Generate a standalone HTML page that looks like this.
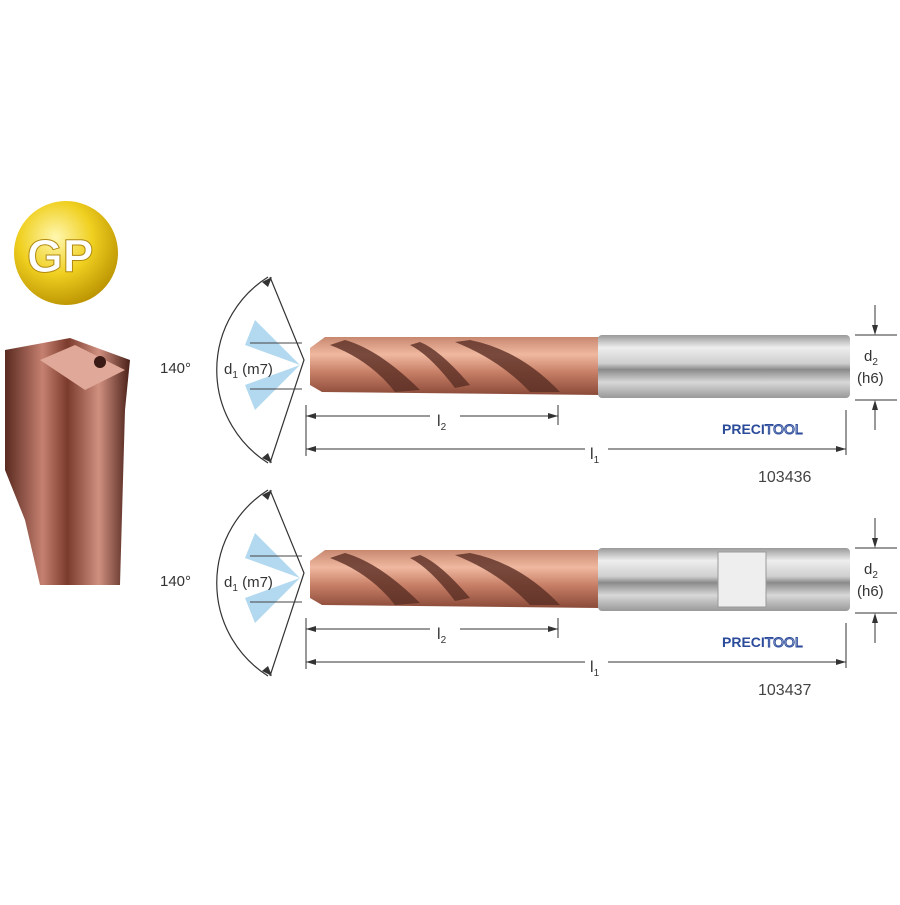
<!DOCTYPE html>
<html><head><style>
body{margin:0;background:#fff;width:900px;height:900px;overflow:hidden;font-family:"Liberation Sans",sans-serif}
svg text{font-family:"Liberation Sans",sans-serif;fill:#333}
</style></head><body>
<svg width="900" height="900" viewBox="0 0 900 900" xmlns="http://www.w3.org/2000/svg">
<defs>
<radialGradient id="gold" cx="40%" cy="35%" r="70%">
<stop offset="0" stop-color="#fff7b0"/><stop offset="0.5" stop-color="#f0d020"/><stop offset="1" stop-color="#b89000"/>
</radialGradient>
<linearGradient id="cop" x1="0" y1="0" x2="0" y2="1">
<stop offset="0" stop-color="#c88870"/><stop offset="0.3" stop-color="#f0b8a0"/><stop offset="0.6" stop-color="#c88068"/><stop offset="1" stop-color="#8a4a38"/>
</linearGradient>
<linearGradient id="steel" x1="0" y1="0" x2="0" y2="1">
<stop offset="0" stop-color="#9a9a9a"/><stop offset="0.2" stop-color="#eeeeee"/><stop offset="0.45" stop-color="#cfcfcf"/><stop offset="0.55" stop-color="#8a8a8a"/><stop offset="0.75" stop-color="#d8d8d8"/><stop offset="1" stop-color="#999"/>
</linearGradient>
<linearGradient id="cop2" x1="0" y1="0" x2="1" y2="0">
<stop offset="0" stop-color="#5a2a20"/><stop offset="0.3" stop-color="#c58070"/><stop offset="0.5" stop-color="#7a3a2c"/><stop offset="0.75" stop-color="#d09080"/><stop offset="1" stop-color="#4a2018"/>
</linearGradient>
<g id="drill">
<path d="M268 277 A110 110 0 0 0 268 463" fill="none" stroke="#333" stroke-width="1.2"/>
<polygon points="262,282 272,277 268,287" fill="#333"/>
<polygon points="262,458 272,463 268,453" fill="#333"/>
<polyline points="270,277 304,360 270,463" fill="none" stroke="#333" stroke-width="1.2"/>
<path d="M300 365 L255 320 L245 345 Z M300 365 L245 385 L255 410 Z" fill="#9fd0ec" opacity="0.8"/>
<line x1="250" y1="343" x2="302" y2="343" stroke="#444"/>
<line x1="250" y1="389" x2="302" y2="389" stroke="#444"/>
<text x="160" y="373" font-size="15">140°</text>
<text x="224" y="374" font-size="15">d<tspan font-size="10" dy="4">1</tspan><tspan dy="-4"> (m7)</tspan></text>
<path d="M310 348 L325 337 L600 337 L600 395 L322 392 L310 385 Z" fill="url(#cop)"/>
<path d="M345 340 Q380 350 420 390 L395 392 Q370 360 330 345Z M470 340 Q520 350 560 392 L530 392 Q500 360 455 342Z M420 342 Q440 350 470 385 L455 388 Q430 355 410 345Z" fill="#5a2e24" opacity="0.8"/>
<rect x="598" y="335" width="252" height="63" rx="4" fill="url(#steel)"/>
<line x1="306" y1="405" x2="306" y2="456" stroke="#333"/>
<line x1="558" y1="405" x2="558" y2="425" stroke="#333"/>
<line x1="846" y1="410" x2="846" y2="455" stroke="#333"/>
<line x1="306" y1="416" x2="430" y2="416" stroke="#333"/><line x1="460" y1="416" x2="558" y2="416" stroke="#333"/>
<polygon points="306,416 316,413 316,419" fill="#333"/><polygon points="558,416 548,413 548,419" fill="#333"/>
<text x="437" y="426" font-size="16">l<tspan font-size="10" dy="4">2</tspan></text>
<line x1="306" y1="449" x2="585" y2="449" stroke="#333"/><line x1="608" y1="449" x2="846" y2="449" stroke="#333"/>
<polygon points="306,449 316,446 316,452" fill="#333"/><polygon points="846,449 836,446 836,452" fill="#333"/>
<text x="590" y="459" font-size="16">l<tspan font-size="10" dy="4">1</tspan></text>
<text x="722" y="434" font-size="14" font-weight="bold" style="fill:#2a4a9a">PRECI<tspan font-weight="normal" style="fill:#fff;stroke:#2a4a9a;stroke-width:1">TOOL</tspan></text>
<line x1="855" y1="335" x2="897" y2="335" stroke="#333"/><line x1="855" y1="400" x2="897" y2="400" stroke="#333"/>
<line x1="875" y1="305" x2="875" y2="333" stroke="#333"/><polygon points="872,325 878,325 875,335" fill="#333"/>
<line x1="875" y1="402" x2="875" y2="430" stroke="#333"/><polygon points="872,410 878,410 875,400" fill="#333"/>
<text x="864" y="361" font-size="15">d<tspan font-size="10" dy="4">2</tspan></text>
<text x="857" y="383" font-size="15">(h6)</text>
</g>
</defs>
<circle cx="66" cy="253" r="52" fill="url(#gold)"/>
<text x="27" y="272" font-size="46" font-weight="bold" style="fill:#fff;stroke:#b08a10;stroke-width:1">GP</text>
<path d="M5 350 L70 338 L130 360 L125 410 L120 585 L40 585 L25 520 L5 470 Z" fill="url(#cop2)"/>
<path d="M40 360 L75 345 L125 370 L85 390 Z" fill="#e0a898"/>
<circle cx="100" cy="362" r="6" fill="#3a1a14"/>
<use href="#drill"/>
<text x="758" y="482" font-size="16" style="fill:#444">103436</text>
<g transform="translate(0,213)"><use href="#drill"/>
<rect x="718" y="339" width="48" height="55" fill="#eee" stroke="#999"/>
</g>
<text x="758" y="695" font-size="16" style="fill:#444">103437</text>
</svg>
</body></html>
